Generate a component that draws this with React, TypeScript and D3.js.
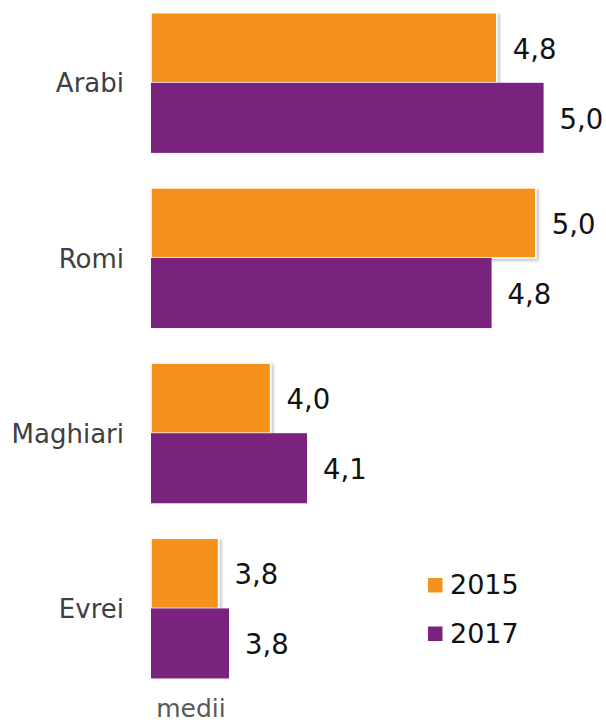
import React from 'react';
import * as d3 from "d3";

// Data (axis does not start at zero)
const categories = ["Arabi", "Romi", "Maghiari", "Evrei"];
const seriesNames = ["2015", "2017"];
const values2015 = [4.83, 4.98, 3.96, 3.76];
const values2017 = [5.01, 4.81, 4.10, 3.80];
const axisLabel = "medii";

const colors: Record<string, string> = { "2015": "#F5921E", "2017": "#7A237E" };
const font = "'DejaVu Sans', Verdana, sans-serif";

function App() {
  const width = 606;
  const height = 723;

  const x = d3.scaleLinear().domain([3.5, 5.3]).range([151, 619]);

  const y = d3
    .scaleBand()
    .domain(categories)
    .range([-4.8, 696])
    .paddingInner(0.2)
    .paddingOuter(0.1);

  const sub = d3.scaleBand().domain(seriesNames).range([0, y.bandwidth()]);

  const fmt = (v: number) => v.toFixed(1).replace(".", ",");

  const rows = categories.map((c, i) => ({
    cat: c,
    bars: [
      { key: "2015", value: values2015[i] },
      { key: "2017", value: values2017[i] },
    ],
  }));

  return (
    <svg
      width={width}
      height={height}
      style={{ position: "absolute", left: 0, top: 0, background: "#fff" }}
    >
      <defs>
        <filter id="shadow" x="-10%" y="-10%" width="130%" height="130%">
          <feDropShadow dx="2" dy="2" stdDeviation="1.5" floodColor="#000" floodOpacity="0.25" />
        </filter>
      </defs>

      {rows.map((r) => {
        const gy = y(r.cat) as number;
        return (
          <g key={r.cat}>
            <text
              x={124}
              y={gy + y.bandwidth() / 2 + 9.5}
              textAnchor="end"
              fontFamily={font}
              fontSize={26}
              fill="#404040"
            >
              {r.cat}
            </text>
            {r.bars.map((b) => {
              const by = gy + (sub(b.key) as number);
              const bh = sub.bandwidth();
              const isFirst = b.key === "2015";
              return (
                <g key={b.key}>
                  <rect
                    x={x(3.5)}
                    y={by}
                    width={x(b.value) - x(3.5)}
                    height={bh}
                    fill={colors[b.key]}
                    stroke={isFirst ? "#fff" : "none"}
                    strokeWidth={isFirst ? 1.5 : 0}
                    filter={isFirst ? "url(#shadow)" : undefined}
                  />
                  <text
                    x={x(b.value) + 16}
                    y={by + bh / 2 + 11}
                    fontFamily={font}
                    fontSize={27.5}
                    fill="#111"
                  >
                    {fmt(b.value)}
                  </text>
                </g>
              );
            })}
          </g>
        );
      })}

      {seriesNames.map((s, i) => (
        <g key={s} transform={`translate(428, ${578 + i * 48.5})`}>
          <rect x={0} y={0} width={14.5} height={14.5} fill={colors[s]} />
          <text x={22} y={16} fontFamily={font} fontSize={27} fill="#111">
            {s}
          </text>
        </g>
      ))}

      <text
        x={191}
        y={717}
        textAnchor="middle"
        fontFamily={font}
        fontSize={25}
        fill="#595959"
      >
        {axisLabel}
      </text>
    </svg>
  );
}

export default App;
